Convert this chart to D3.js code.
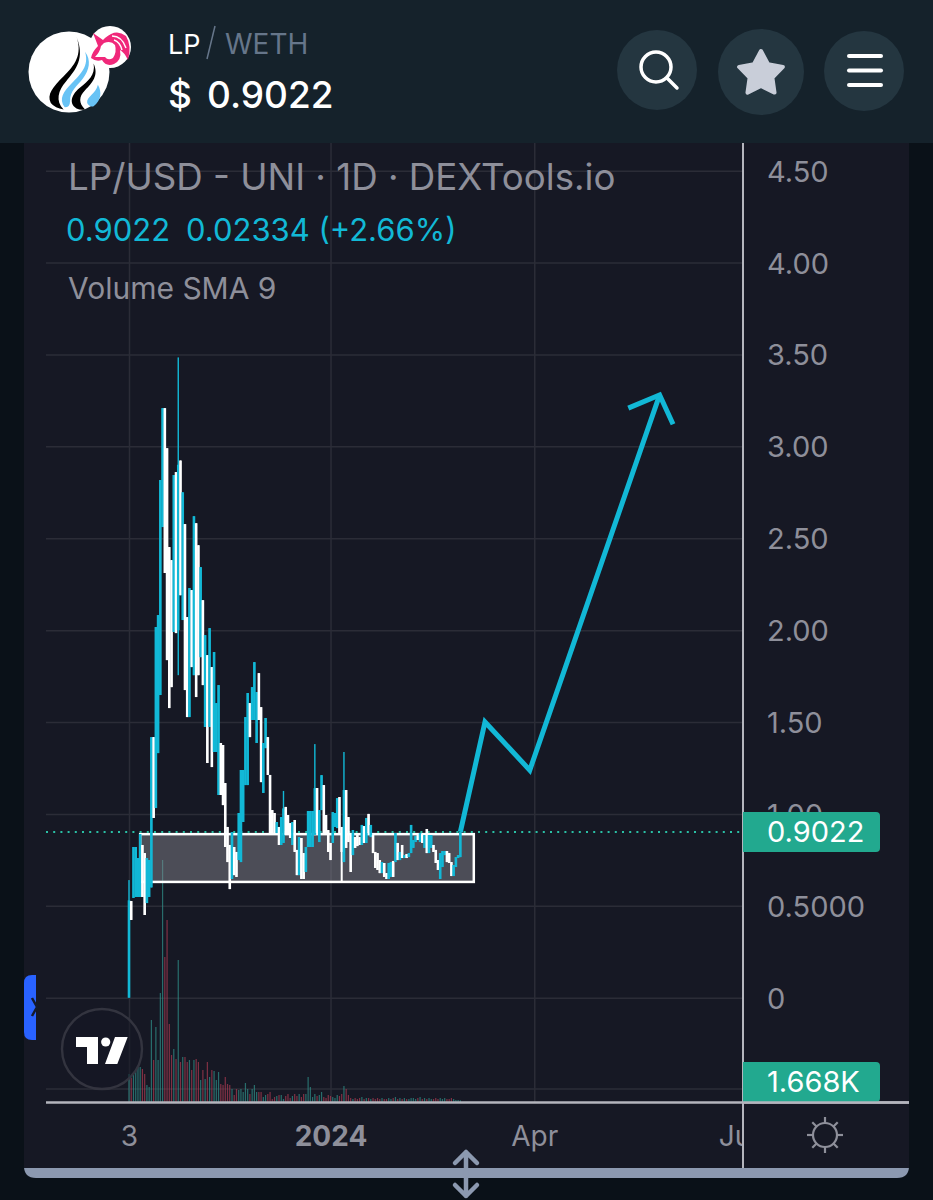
<!DOCTYPE html>
<html>
<head>
<meta charset="utf-8">
<script src="https://cdn.jsdelivr.net/npm/d3@7"></script>
<style>
html, body { margin: 0; padding: 0; background: #0a1118; }
svg { display: block; }
text { font-family: Inter, Roboto, "Liberation Sans", sans-serif; }
.domain { display: none; }
</style>
</head>
<body>
<div id="chart"></div>
<script>
const firstDay = new Date(Date.UTC(2023, 9, 3));

// daily candles, full range of each day in dollars (1 = close above open)
const candleHigh = [0.64,0.526,0.82,0.82,0.76,0.89,0.831,0.787,0.76,0.749,1.418,1.418,2.017,2.082,2.817,3.208,3.208,2.99,2.452,2.381,2.844,2.86,3.484,2.923,2.75,2.577,2.071,2.229,2.218,2.62,2.582,2.462,2.343,2.163,1.973,1.864,2.011,1.799,1.881,1.603,1.701,1.386,1.375,1.168,0.929,0.831,0.901,0.82,0.793,1.005,1.239,1.239,1.527,1.658,1.603,1.69,1.826,1.663,1.766,1.581,1.386,1.522,1.418,1.212,1.021,1.005,0.956,0.929,0.983,1.125,1.038,0.994,0.95,0.956,0.967,0.804,0.874,0.869,0.787,0.82,1.016,1.016,1.016,1.38,1.141,1.021,1.211,1.157,0.994,0.912,0.842,1.01,1.005,1.086,1.092,0.929,1.337,1.13,0.983,0.896,0.912,0.874,0.885,0.874,0.94,0.934,0.978,1.0,0.94,0.885,0.793,0.787,0.749,0.738,0.733,0.678,0.733,0.738,0.744,0.896,0.842,0.793,0.831,0.776,0.782,0.787,0.94,0.858,0.88,0.885,0.896,0.891,0.885,0.918,0.885,0.885,0.831,0.804,0.749,0.787,0.798,0.798,0.798,0.787,0.738,0.722,0.765,0.776,0.9022];
const candleLow = [0,0.423,0.543,0.548,0.548,0.548,0.548,0.45,0.515,0.548,0.6,0.978,1.032,1.331,1.647,2.561,2.311,1.837,1.576,1.69,1.99,1.984,1.755,2.19,2.055,1.674,1.527,1.527,1.799,1.755,1.636,1.755,1.853,1.701,1.473,1.277,1.473,1.255,1.337,1.337,1.103,1.103,1.048,0.82,0.738,0.591,0.646,0.667,0.657,0.749,0.738,0.956,1.157,1.157,1.418,1.511,1.511,1.386,1.511,1.173,1.114,1.358,1.212,0.896,0.896,0.896,0.896,0.831,0.831,0.842,0.886,0.896,0.869,0.831,0.793,0.667,0.667,0.646,0.646,0.684,0.82,0.82,0.82,0.886,0.896,0.847,1.021,0.886,0.896,0.793,0.749,0.842,0.929,0.923,0.896,0.793,0.738,0.815,0.847,0.684,0.776,0.815,0.825,0.831,0.831,0.842,0.842,0.896,0.874,0.787,0.706,0.695,0.678,0.678,0.657,0.646,0.646,0.657,0.657,0.738,0.749,0.749,0.76,0.76,0.76,0.765,0.787,0.815,0.847,0.858,0.847,0.842,0.815,0.787,0.787,0.815,0.793,0.733,0.695,0.646,0.711,0.776,0.738,0.733,0.662,0.662,0.711,0.76,0.765];
const candleUp = [1,0,1,1,1,1,0,0,1,1,1,0,1,1,1,1,0,0,0,0,1,0,1,0,1,0,0,1,0,1,0,0,1,0,1,0,1,0,1,1,1,0,0,0,0,0,1,0,0,1,1,1,1,1,0,1,1,1,0,0,1,1,0,0,0,0,1,0,1,1,0,0,0,1,0,0,1,0,0,1,1,1,1,1,0,1,1,0,0,0,0,1,1,1,0,0,1,0,0,0,1,0,0,0,1,0,1,0,1,0,0,0,0,1,0,0,1,1,0,1,0,1,0,1,0,1,1,1,1,0,1,0,1,0,1,1,0,0,0,1,1,1,0,0,0,1,1,1,1];
// the few days with a long thin wick: [day index, body top, body bottom]
const wickDays = [[0,0.53,0],[22,2.9,2.0],[69,1.03,0.842],[83,1.14,0.886],[96,1.13,0.738]];
// volume in thousands
const volume = [28,24,28,33,36,35,33,28,17,15,82,42,75,42,109,242,145,182,78,47,53,43,142,40,45,45,40,42,32,42,43,40,22,32,23,40,25,32,31,22,30,18,17,25,18,17,13,7,13,12,13,10,19,13,8,13,17,10,10,10,5,7,8,10,3,5,6,7,7,3,6,8,4,6,8,6,8,5,8,8,25,15,5,8,6,7,10,5,4,7,6,5,4,7,6,8,16,13,7,4,3,4,3,4,5,3,4,4,3,4,3,4,3,4,3,3,4,3,4,5,3,4,3,4,3,3,4,4,3,4,5,3,4,3,4,3,3,4,3,4,3,4,3,3,4,3,2,2,1.668];

const priceTicks = [4.5,4,3.5,3,2.5,2,1.5,1,0.5,0];
const priceLabels = ["4.50","4.00","3.50","3.00","2.50","2.00","1.50","1.00","0.5000","0"];
const dateTicks = [firstDay, new Date(Date.UTC(2024,0,1)), new Date(Date.UTC(2024,3,1)), new Date(Date.UTC(2024,6,1))];
const dateLabels = ["3","2024","Apr","Jul"];
const lastPrice = 0.9022;
const lastVolume = "1.668K";

// hand drawn bits on the chart
const rangeBox = { from: "2023-10-08", to: "2024-03-05", split: "2024-01-06", top: 0.89, bottom: 0.63 };
const forecastDates = ["2024-02-28","2024-03-10","2024-03-30","2024-05-27"];
const forecastPrices = [0.9022,1.5,1.238,3.28];
const arrowDates = ["2024-05-13","2024-05-27","2024-06-02"];
const arrowPrices = [3.208,3.28,3.12];

const W = 933, H = 1200;
const grey = "#8e8f9a", cyan = "#12b8d6", panel = "#161824", gridCol = "#2b2c37", green = "#22a98f", slate = "#8c99b0";

const svg = d3.select("#chart").append("svg").attr("width", W).attr("height", H);
svg.append("rect").attr("width", W).attr("height", H).attr("fill", "#0a1118");

const defs = svg.append("defs");
defs.append("clipPath").attr("id", "plotClip").append("rect").attr("x", 24).attr("y", 143).attr("width", 718).attr("height", 1030);

// panel and bottom scroll bar
svg.append("path").attr("d", "M24,1160H909V1166Q909,1178 897,1178H36Q24,1178 24,1166Z").attr("fill", slate);
svg.append("rect").attr("x", 24).attr("y", 143).attr("width", 885).attr("height", 1025).attr("fill", panel);

const x = d3.scaleUtc().domain([firstDay, dateTicks[3]]).range([129, 738]);
const y = d3.scaleLinear().domain([0, 4.5]).range([997.7, 170.7]);
const yVol = d3.scaleLinear().domain([0, 242]).range([1102, 860]);
const dayX = i => x(d3.utcDay.offset(firstDay, i));
const dateX = s => x(new Date(s + "T00:00:00Z"));

// grid
const xGrid = svg.append("g").attr("transform", "translate(0,1102)")
  .call(d3.axisBottom(x).tickValues(dateTicks.slice(0, 3)).tickSize(-959).tickFormat(""));
xGrid.selectAll("line").attr("stroke", gridCol).attr("stroke-width", 1.5);
const yGrid = svg.append("g").attr("transform", "translate(742,0)")
  .call(d3.axisLeft(y).tickValues(priceTicks).tickSize(696).tickFormat(""));
yGrid.selectAll("line").attr("stroke", gridCol).attr("stroke-width", 1.5);
svg.append("line").attr("x1", 46).attr("x2", 742).attr("y1", yVol(13)).attr("y2", yVol(13)).attr("stroke", gridCol).attr("stroke-width", 1.5);

// volume
svg.append("g").selectAll("rect").data(volume).join("rect")
  .attr("x", (d, i) => dayX(i) - 0.6).attr("width", 1.2)
  .attr("y", d => yVol(d)).attr("height", d => yVol(0) - yVol(d))
  .attr("fill", (d, i) => candleUp[i] ? "#2f8f88" : "#a93a50")
  .attr("opacity", 0.72);

// range box goes behind the candles
const box = svg.append("g");
box.append("rect")
  .attr("x", dateX(rangeBox.from)).attr("y", y(rangeBox.top))
  .attr("width", dateX(rangeBox.to) - dateX(rangeBox.from))
  .attr("height", y(rangeBox.bottom) - y(rangeBox.top))
  .attr("fill", "rgba(135,135,145,0.48)").attr("stroke", "#fff").attr("stroke-width", 2.5);
box.append("line")
  .attr("x1", dateX(rangeBox.split)).attr("x2", dateX(rangeBox.split))
  .attr("y1", y(rangeBox.top)).attr("y2", y(rangeBox.bottom))
  .attr("stroke", "#fff").attr("stroke-width", 2);

// last price dotted line
svg.append("line").attr("x1", 46).attr("x2", 742).attr("y1", y(lastPrice)).attr("y2", y(lastPrice))
  .attr("stroke", "#2ac0a5").attr("stroke-width", 2).attr("stroke-dasharray", "2 5.2");

// candles
const candles = svg.append("g").selectAll("g").data(candleHigh).join("g")
  .attr("fill", (d, i) => candleUp[i] ? cyan : "#fff");
candles.append("rect")
  .attr("x", (d, i) => dayX(i) - 0.7).attr("width", 1.4)
  .attr("y", d => y(d)).attr("height", (d, i) => y(candleLow[i]) - y(d));
candles.append("rect")
  .attr("x", (d, i) => dayX(i) - 1.3).attr("width", 2.6)
  .attr("y", (d, i) => { const w = wickDays.find(k => k[0] === i); return y(w ? w[1] : d); })
  .attr("height", (d, i) => {
    const w = wickDays.find(k => k[0] === i);
    return w ? y(w[2]) - y(w[1]) : y(candleLow[i]) - y(d);
  });

// drawn forecast
const zig = d3.line().x(d => dateX(d[0])).y(d => y(d[1]));
svg.append("path").attr("d", zig(d3.zip(forecastDates, forecastPrices)))
  .attr("fill", "none").attr("stroke", cyan).attr("stroke-width", 5);
svg.append("path").attr("d", zig(d3.zip(arrowDates, arrowPrices)))
  .attr("fill", "none").attr("stroke", cyan).attr("stroke-width", 5);

// axis lines
svg.append("line").attr("x1", 46).attr("x2", 909).attr("y1", 1102.5).attr("y2", 1102.5).attr("stroke", "#b4b5bd").attr("stroke-width", 2.4);

// price axis
const yAxis = svg.append("g").attr("transform", "translate(743,0)")
  .call(d3.axisRight(y).tickValues(priceTicks).tickSize(0).tickPadding(24)
    .tickFormat(d => priceLabels[priceTicks.indexOf(d)]));
yAxis.selectAll("text").attr("font-size", 29).attr("fill", grey)
  .style("font-family", "Inter, Roboto, sans-serif").attr("dy", "0.36em");

// time axis, clipped at the price axis so that Jul is cut off
const xAxis = svg.append("g").attr("clip-path", "url(#plotClip)").append("g").attr("transform", "translate(0,1102)")
  .call(d3.axisBottom(x).tickValues(dateTicks).tickSize(0).tickPadding(24)
    .tickFormat((d, i) => dateLabels[i]));
xAxis.selectAll("text").attr("font-size", 28).attr("fill", grey)
  .style("font-family", "Inter, Roboto, sans-serif")
  .attr("font-weight", (d, i) => dateLabels[i] === "2024" ? 700 : 400).attr("dy", "0.71em");

svg.append("line").attr("x1", 743).attr("x2", 743).attr("y1", 143).attr("y2", 1168).attr("stroke", "#b4b5bd").attr("stroke-width", 2);

// value badges
function badge(cy, label) {
  svg.append("path").attr("d", `M743,${cy - 20}H876Q880,${cy - 20} 880,${cy - 16}V${cy + 16}Q880,${cy + 20} 876,${cy + 20}H743Z`).attr("fill", green);
  svg.append("text").attr("x", 767).attr("y", cy + 10).attr("font-size", 29).attr("fill", "#fff").text(label);
}
badge(832, "0.9022");
badge(1082, lastVolume);
svg.append("line").attr("x1", 743).attr("x2", 909).attr("y1", 1102.5).attr("y2", 1102.5).attr("stroke", "#b4b5bd").attr("stroke-width", 2.4);

// legend
svg.append("text").attr("x", 68).attr("y", 190).attr("font-size", 36.7).attr("fill", grey).text("LP/USD - UNI · 1D · DEXTools.io");
svg.append("text").attr("x", 66).attr("y", 241).attr("font-size", 31).attr("fill", cyan).text("0.9022");
svg.append("text").attr("x", 186).attr("y", 241).attr("font-size", 31).attr("fill", cyan).text("0.02334 (+2.66%)");
svg.append("text").attr("x", 68).attr("y", 299).attr("font-size", 30).attr("fill", grey).text("Volume SMA 9");

// header
svg.append("rect").attr("width", W).attr("height", 143).attr("fill", "#15222b");
svg.append("text").attr("x", 168).attr("y", 54).attr("font-size", 27).attr("fill", "#fff").text("LP");
svg.append("line").attr("x1", 215).attr("x2", 207).attr("y1", 26).attr("y2", 59).attr("stroke", "#66768a").attr("stroke-width", 1.5);
svg.append("text").attr("x", 225).attr("y", 54).attr("font-size", 28).attr("fill", "#66768a").text("WETH");
svg.append("text").attr("x", 168).attr("y", 108).attr("font-size", 37).attr("font-weight", 500).attr("fill", "#fff").text("$");
svg.append("text").attr("x", 207).attr("y", 108).attr("font-size", 37).attr("font-weight", 500).attr("fill", "#fff").text("0.9022");

// header buttons
[[657, 70, 40], [761, 72, 43], [864, 71, 40]].forEach(c => {
  svg.append("circle").attr("cx", c[0]).attr("cy", c[1]).attr("r", c[2]).attr("fill", "#243640");
});
svg.append("circle").attr("cx", 656).attr("cy", 67).attr("r", 15).attr("fill", "none").attr("stroke", "#fff").attr("stroke-width", 3.5);
svg.append("line").attr("x1", 667).attr("y1", 78).attr("x2", 677).attr("y2", 88).attr("stroke", "#fff").attr("stroke-width", 3.5).attr("stroke-linecap", "round");
svg.append("path").attr("d", d3.line().curve(d3.curveLinearClosed)(d3.range(10).map(i => {
  const a = -Math.PI / 2 + i * Math.PI / 5, r = i % 2 ? 12 : 23;
  return [761 + r * Math.cos(a), 74 + r * Math.sin(a)];
}))).attr("fill", "#c9ced9").attr("stroke", "#c9ced9").attr("stroke-width", 4).attr("stroke-linejoin", "round");
[56, 70.5, 85].forEach(v => {
  svg.append("line").attr("x1", 849).attr("x2", 881).attr("y1", v).attr("y2", v).attr("stroke", "#fff").attr("stroke-width", 4).attr("stroke-linecap", "round");
});

// token logo
const logo = svg.append("g");
logo.append("circle").attr("cx", 69).attr("cy", 72).attr("r", 40.5).attr("fill", "#fff");
const flames = logo.append("g").attr("transform", "translate(69,72) scale(1.07) translate(-65,-71)");
flames.append("path").attr("fill", "#000").attr("d", "M72,38C78,55 70,65 60,75C50,85 44,92 48,100Q52,105 60,106C52,98 55,88 62,80C72,68 80,58 72,38Z");
flames.append("path").attr("fill", "#68c3f5").attr("d", "M80,52C84,65 76,73 68,81C60,89 55,96 61,104Q66,104 66,98C66,88 72,85 78,77C84,69 86,60 80,52Z");
flames.append("path").attr("fill", "#000").attr("d", "M88,63C90,74 82,80 76,85C68,91 64,100 72,105Q76,107 80,106C74,100 74,94 80,88C87,81 93,74 88,63Z");
flames.append("path").attr("fill", "#68c3f5").attr("d", "M92,83C96,90 95,98 88,103Q84,104 82,100C81,94 90,92 92,83Z");
logo.append("circle").attr("cx", 110).attr("cy", 47).attr("r", 21).attr("fill", "#fff");
// unicorn head: pink mane and outline, white face
logo.append("path").attr("fill", "#f0287a").attr("d", "M105,38Q116,28 126,36Q132,46 128,60Q124,52 120,50Q122,60 114,64Q106,67 102,60Q96,62 91,58Q92,52 98,46L93,33L103,40Z");
logo.append("path").attr("fill", "#fff").attr("d", "M104,43Q111,40 115,45Q117,52 113,58Q108,61 105,57Q100,57 95,57Q100,52 101,46Z");
logo.append("path").attr("fill", "none").attr("stroke", "#fff").attr("stroke-width", 1.4).attr("d", "M112,36Q122,36 126,48M114,40Q120,42 122,50");

// tradingview badge
svg.append("circle").attr("cx", 102).attr("cy", 1049).attr("r", 40).attr("fill", panel).attr("fill-opacity", 0.55).attr("stroke", "#33343f").attr("stroke-width", 2.4);
svg.append("path").attr("fill", "#fff").attr("d", "M76,1037H98V1064H87V1047H76ZM115,1037H127.7L117.3,1064H105Z");
svg.append("circle").attr("cx", 105.7).attr("cy", 1042).attr("r", 4.6).attr("fill", "#fff");

// side tab
svg.append("path").attr("fill", "#2962ff").attr("d", "M36,975V1040H32Q24,1040 24,1032V983Q24,975 32,975Z");
svg.append("path").attr("fill", "none").attr("stroke", "#151a2a").attr("stroke-width", 2.5).attr("d", "M32,998L37,1007L32,1016");

// settings sun
const sun = svg.append("g").attr("stroke", grey).attr("stroke-width", 2.2).attr("fill", "none");
sun.append("circle").attr("cx", 825).attr("cy", 1135).attr("r", 12);
d3.range(8).forEach(i => {
  const a = i * Math.PI / 4;
  sun.append("line").attr("x1", 825 + 12 * Math.cos(a)).attr("y1", 1135 + 12 * Math.sin(a))
    .attr("x2", 825 + 18 * Math.cos(a)).attr("y2", 1135 + 18 * Math.sin(a));
});

// resize handle
svg.append("path").attr("fill", "none").attr("stroke", slate).attr("stroke-width", 4.5).attr("stroke-linecap", "round").attr("stroke-linejoin", "round")
  .attr("d", "M455,1163L466,1152L477,1163M466,1152V1196M455,1185L466,1196L477,1185");
</script>
</body>
</html>
